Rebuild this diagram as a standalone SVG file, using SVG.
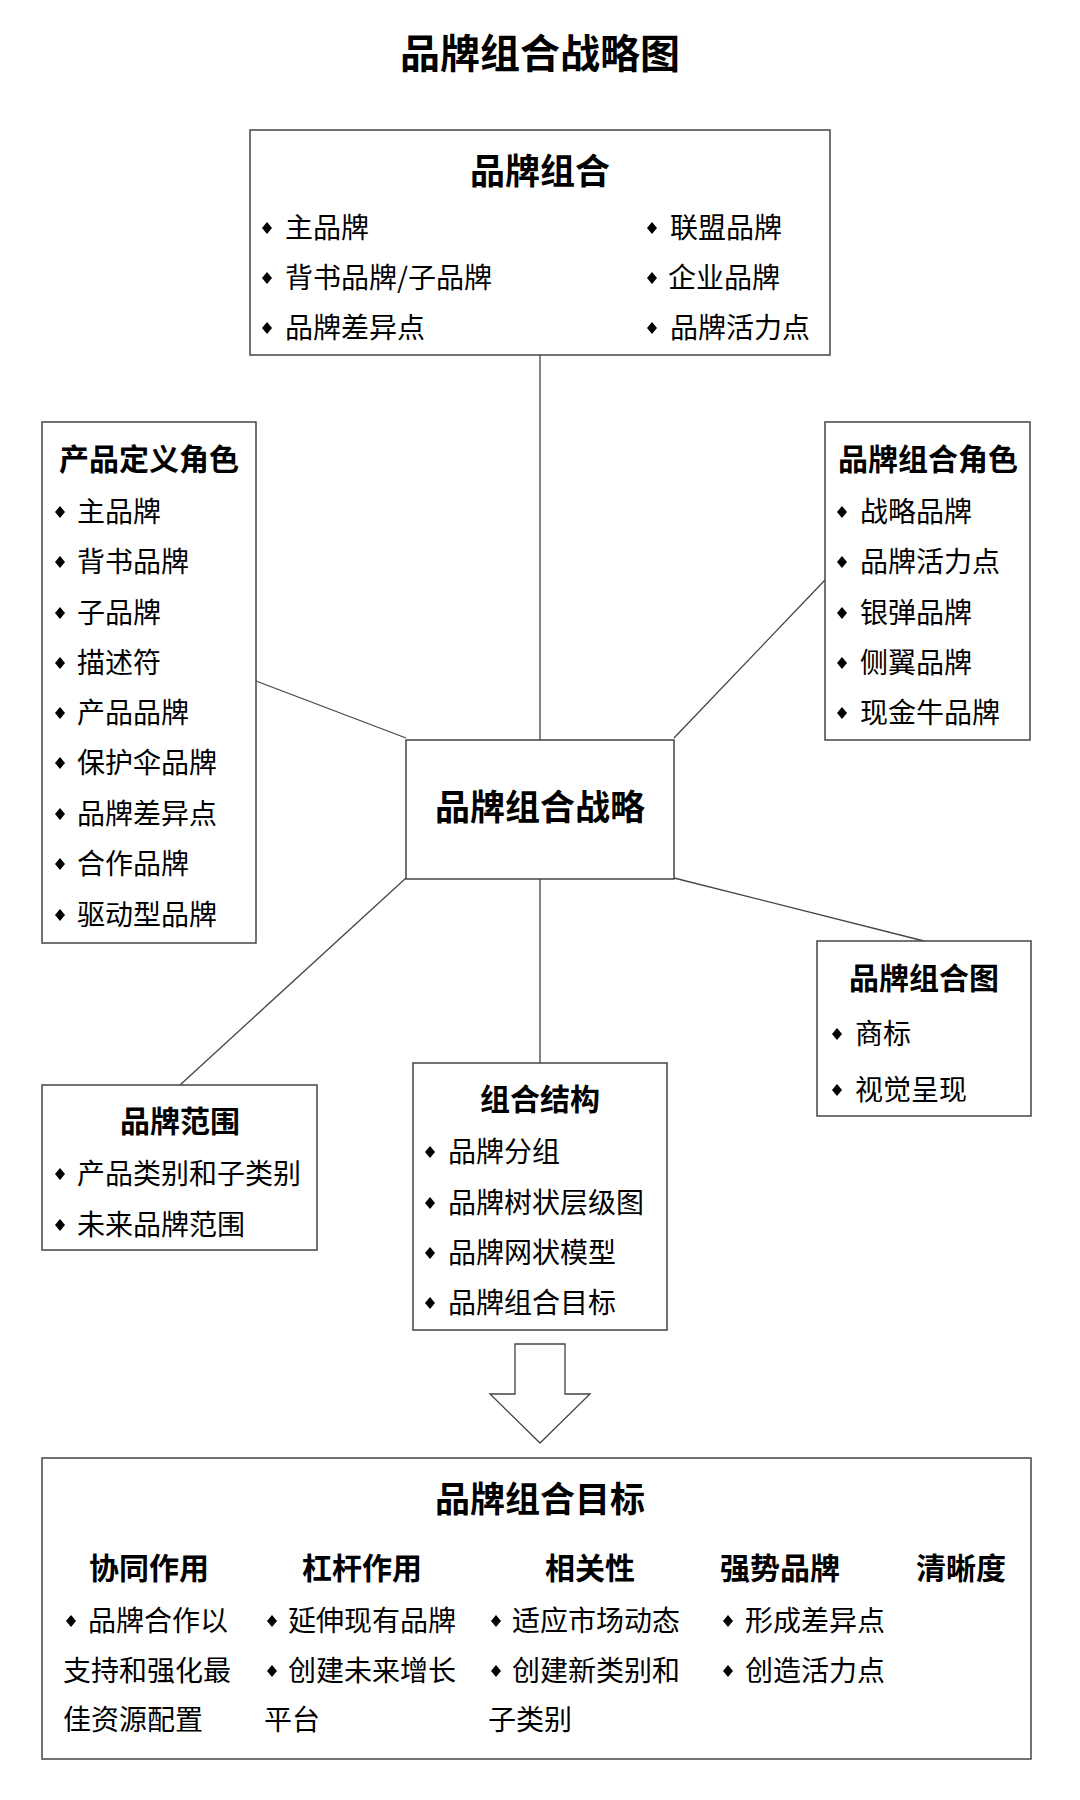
<svg xmlns="http://www.w3.org/2000/svg" width="1080" height="1800" viewBox="0 0 1080 1800">
<defs>
<style>
text{font-family:"Noto Sans CJK SC","Noto Sans",sans-serif;fill:#000}
.t0{font-size:40px;font-weight:700;text-anchor:middle}
.t1{font-size:35px;font-weight:700;text-anchor:middle}
.t2{font-size:30px;font-weight:700;text-anchor:middle}
.it{font-size:28px}
.box{fill:#fff;stroke:#444;stroke-width:1.5}
.ln{stroke:#444;stroke-width:1.3;fill:none}
</style>
<path id="d" d="M0,-6 L5,0 L0,6 L-5,0 Z" fill="#000"/>
</defs>
<rect width="1080" height="1800" fill="#fff"/>
<text class="t0" x="540" y="68">品牌组合战略图</text>
<g id="connectors">
<line class="ln" x1="540" y1="355" x2="540" y2="740"/>
<line class="ln" x1="256" y1="681" x2="406" y2="738"/>
<line class="ln" x1="825" y1="580" x2="674" y2="738"/>
<line class="ln" x1="674" y1="878" x2="924" y2="941"/>
<line class="ln" x1="406" y1="878" x2="180" y2="1085"/>
<line class="ln" x1="540" y1="879" x2="540" y2="1063"/>
</g>
<g id="top">
<rect class="box" x="250" y="130" width="580" height="225"/>
<text class="t1" x="540" y="184">品牌组合</text>
<use href="#d" x="267" y="228"/><text class="it" x="285" y="238">主品牌</text>
<use href="#d" x="267" y="278"/><text class="it" x="285" y="288">背书品牌/子品牌</text>
<use href="#d" x="267" y="328"/><text class="it" x="285" y="338">品牌差异点</text>
<use href="#d" x="652" y="228"/><text class="it" x="670" y="238">联盟品牌</text>
<use href="#d" x="652" y="278"/><text class="it" x="668" y="288">企业品牌</text>
<use href="#d" x="652" y="328"/><text class="it" x="670" y="338">品牌活力点</text>
</g>
<g id="left">
<rect class="box" x="42" y="422" width="214" height="521"/>
<text class="t2" x="149" y="470">产品定义角色</text>
<use href="#d" x="60" y="512"/><text class="it" x="77" y="522">主品牌</text>
<use href="#d" x="60" y="562"/><text class="it" x="77" y="572">背书品牌</text>
<use href="#d" x="60" y="613"/><text class="it" x="77" y="623">子品牌</text>
<use href="#d" x="60" y="663"/><text class="it" x="77" y="673">描述符</text>
<use href="#d" x="60" y="713"/><text class="it" x="77" y="723">产品品牌</text>
<use href="#d" x="60" y="763"/><text class="it" x="77" y="773">保护伞品牌</text>
<use href="#d" x="60" y="814"/><text class="it" x="77" y="824">品牌差异点</text>
<use href="#d" x="60" y="864"/><text class="it" x="77" y="874">合作品牌</text>
<use href="#d" x="60" y="915"/><text class="it" x="77" y="925">驱动型品牌</text>
</g>
<g id="right">
<rect class="box" x="825" y="422" width="205" height="318"/>
<text class="t2" x="928" y="470">品牌组合角色</text>
<use href="#d" x="842" y="512"/><text class="it" x="860" y="522">战略品牌</text>
<use href="#d" x="842" y="562"/><text class="it" x="860" y="572">品牌活力点</text>
<use href="#d" x="842" y="613"/><text class="it" x="860" y="623">银弹品牌</text>
<use href="#d" x="842" y="663"/><text class="it" x="860" y="673">侧翼品牌</text>
<use href="#d" x="842" y="713"/><text class="it" x="860" y="723">现金牛品牌</text>
</g>
<g id="center">
<rect class="box" x="406" y="740" width="268" height="139"/>
<text class="t1" x="540" y="820">品牌组合战略</text>
</g>
<g id="map">
<rect class="box" x="817" y="941" width="214" height="175"/>
<text class="t2" x="924" y="989">品牌组合图</text>
<use href="#d" x="837" y="1034"/><text class="it" x="855" y="1044">商标</text>
<use href="#d" x="837" y="1090"/><text class="it" x="855" y="1100">视觉呈现</text>
</g>
<g id="scope">
<rect class="box" x="42" y="1085" width="275" height="165"/>
<text class="t2" x="180" y="1132">品牌范围</text>
<use href="#d" x="60" y="1174"/><text class="it" x="77" y="1184">产品类别和子类别</text>
<use href="#d" x="60" y="1225"/><text class="it" x="77" y="1235">未来品牌范围</text>
</g>
<g id="structure">
<rect class="box" x="413" y="1063" width="254" height="267"/>
<text class="t2" x="540" y="1110">组合结构</text>
<use href="#d" x="430" y="1152"/><text class="it" x="448" y="1162">品牌分组</text>
<use href="#d" x="430" y="1203"/><text class="it" x="448" y="1213">品牌树状层级图</text>
<use href="#d" x="430" y="1253"/><text class="it" x="448" y="1263">品牌网状模型</text>
<use href="#d" x="430" y="1303"/><text class="it" x="448" y="1313">品牌组合目标</text>
</g>
<g id="arrow">
<path d="M515,1344 H565 V1394 H590 L540,1443 L490,1394 H515 Z" fill="#fff" stroke="#444" stroke-width="1.3"/>
</g>
<g id="goals">
<rect class="box" x="42" y="1458" width="989" height="301"/>
<text class="t1" x="540" y="1512">品牌组合目标</text>
<text class="t2" x="149" y="1579">协同作用</text>
<text class="t2" x="362" y="1579">杠杆作用</text>
<text class="t2" x="590" y="1579">相关性</text>
<text class="t2" x="780" y="1579">强势品牌</text>
<text class="t2" x="961" y="1579">清晰度</text>
<use href="#d" x="71" y="1621"/><text class="it" x="88" y="1631">品牌合作以</text>
<text class="it" x="63" y="1681">支持和强化最</text>
<text class="it" x="63" y="1730">佳资源配置</text>
<use href="#d" x="272" y="1621"/><text class="it" x="288" y="1631">延伸现有品牌</text>
<use href="#d" x="272" y="1671"/><text class="it" x="288" y="1681">创建未来增长</text>
<text class="it" x="264" y="1730">平台</text>
<use href="#d" x="496" y="1621"/><text class="it" x="512" y="1631">适应市场动态</text>
<use href="#d" x="496" y="1671"/><text class="it" x="512" y="1681">创建新类别和</text>
<text class="it" x="488" y="1730">子类别</text>
<use href="#d" x="728" y="1621"/><text class="it" x="745" y="1631">形成差异点</text>
<use href="#d" x="728" y="1671"/><text class="it" x="745" y="1681">创造活力点</text>
</g>
</svg>
